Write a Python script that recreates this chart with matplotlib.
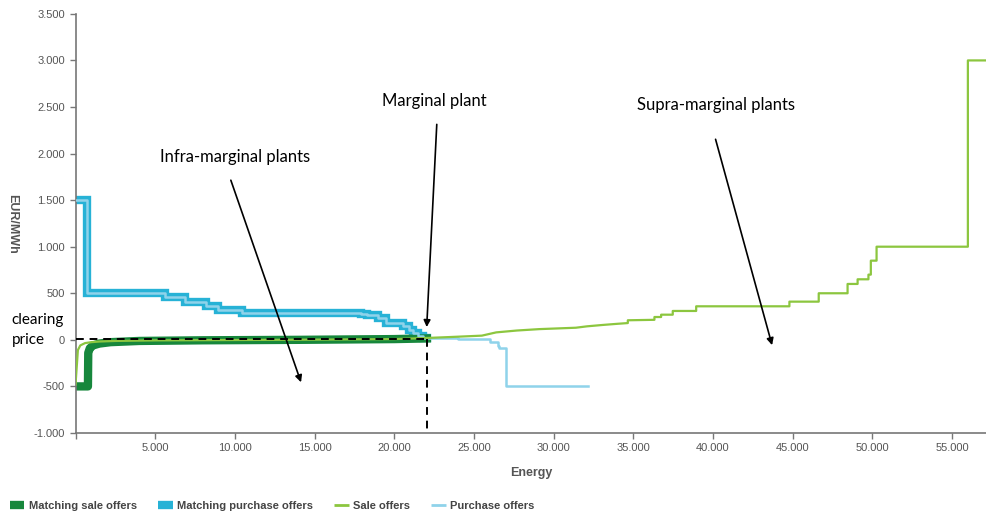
import matplotlib.pyplot as plt
from matplotlib.lines import Line2D
from matplotlib.ticker import FuncFormatter, MultipleLocator

# Matching purchase offers (steps-post: energy where each level starts)
mp_energy = [0, 720, 5600, 6870, 8220, 8930, 10420, 17900, 18300, 18970, 19510, 20540, 20900, 21170, 21480, 21800, 22050]
mp_price = [1500, 500, 460, 410, 360, 320, 290, 280, 265, 230, 185, 145, 110, 75, 45, 25, 20]

# Purchase offers beyond the clearing point
po_energy = [22050, 24000, 25150, 26000, 26500, 26600, 27000, 32150]
po_price = [20, 12, 5, -20, -65, -90, -500, -500]

# Matching sale offers (vertices)
ms_energy = [0, 780, 800, 900, 1100, 1500, 2200, 4000, 8000, 14000, 20000, 22050]
ms_price = [-500, -500, -140, -90, -60, -40, -25, -12, -5, 0, 8, 15]

# Sale offers (vertices)
so_energy = [0, 150, 300, 600, 1000, 1500, 2500, 5000, 10000, 15000, 20000, 22050,
             23500, 25500, 26400, 27700, 29100, 31400, 32100, 33100, 34000, 34660, 34660,
             36330, 36330, 36750, 36750, 37480, 37480, 38950, 38950, 44800, 44800,
             46640, 46640, 48450, 48450, 49080, 49080, 49760, 49760, 49910, 49910,
             50270, 50270, 56000, 56000, 57500]
so_price = [-480, -110, -60, -35, -25, -18, -12, -6, -2, 2, 8, 20,
            30, 45, 80, 100, 115, 130, 145, 160, 172, 180, 210,
            215, 245, 245, 270, 270, 310, 310, 360, 360, 410,
            410, 500, 500, 600, 600, 650, 650, 700, 700, 850,
            850, 1000, 1000, 3000, 3000]

clearing_energy = 22050
clearing_price = 5

plt.rcParams['font.family'] = ['Liberation Sans', 'DejaVu Sans']

fig = plt.figure(figsize=(9.87, 5.13), dpi=100)
ax = fig.add_axes([0.0765, 0.156, 0.9235, 0.817])

# thick matching curves
ax.plot(mp_energy, mp_price, drawstyle='steps-post', color='#27b2d6', lw=6,
        solid_joinstyle='miter', zorder=2)
ax.plot(ms_energy, ms_price, color='#17873c', lw=6, zorder=2)

# thin offer curves on top
ax.plot(mp_energy + po_energy, mp_price + po_price, drawstyle='steps-post',
        color='#8fd3ea', lw=1.8, zorder=3)
ax.plot(so_energy, so_price, color='#8cc63f', lw=1.6, zorder=3)

# clearing point dashed lines
ax.plot([0, clearing_energy], [clearing_price, clearing_price], color='black',
        lw=1.4, ls=(0, (4, 3)), zorder=4)
ax.plot([clearing_energy, clearing_energy], [clearing_price, -1000], color='black',
        lw=1.4, ls=(0, (4, 3)), zorder=4)

ax.set_xlim(0, 57200)
ax.set_ylim(-1000, 3500)
ax.xaxis.set_major_locator(MultipleLocator(5000))
ax.yaxis.set_major_locator(MultipleLocator(500))

ax.yaxis.set_major_formatter(FuncFormatter(lambda v, p: f'{int(v):,}'.replace(',', '.')))
ax.xaxis.set_major_formatter(FuncFormatter(lambda v, p: '' if v == 0 else f'{int(v):,}'.replace(',', '.')))

for s in ['top', 'right']:
    ax.spines[s].set_visible(False)
for s in ['left', 'bottom']:
    ax.spines[s].set_color('#777777')
    ax.spines[s].set_linewidth(1.2)
ax.tick_params(colors='#777777', labelcolor='#555555', labelsize=8, length=4, width=1)

ax.set_xlabel('Energy', fontsize=9, fontweight='bold', color='#555555', labelpad=10)
ax.set_ylabel('EUR/MWh', fontsize=9, fontweight='bold', color='#555555', rotation=270)
ax.yaxis.set_label_coords(-0.076, 0.5)

# annotations
tfont = dict(family='Lato', color='black')
arrow = dict(arrowstyle='-|>', color='black', lw=1.2, mutation_scale=10)
ax.annotate('', xy=(14210, -484), xytext=(9690, 1742), arrowprops=arrow)
ax.text(10000, 1960, 'Infra-marginal plants', ha='center', va='center', fontsize=12, **tfont)
ax.annotate('', xy=(22030, 107), xytext=(22680, 2343), arrowprops=arrow)
ax.text(22500, 2560, 'Marginal plant', ha='center', va='center', fontsize=12, **tfont)
ax.annotate('', xy=(43760, -86), xytext=(40120, 2182), arrowprops=arrow)
ax.text(40200, 2520, 'Supra-marginal plants', ha='center', va='center', fontsize=12, **tfont)
fig.text(11 / 987, 1 - 320 / 513, 'clearing', ha='left', va='center', fontsize=11, **tfont)
fig.text(12 / 987, 1 - 340 / 513, 'price', ha='left', va='center', fontsize=11, **tfont)

handles = [
    Line2D([], [], color='#17873c', lw=6, solid_capstyle='butt'),
    Line2D([], [], color='#27b2d6', lw=6, solid_capstyle='butt'),
    Line2D([], [], color='#8cc63f', lw=2, solid_capstyle='butt'),
    Line2D([], [], color='#8fd3ea', lw=2, solid_capstyle='butt'),
]
labels = ['Matching sale offers', 'Matching purchase offers', 'Sale offers', 'Purchase offers']
fig.legend(handles, labels, loc='lower left', bbox_to_anchor=(0.0, -0.016), ncol=4,
           frameon=False, handlelength=1.3, columnspacing=1.9, handletextpad=0.4,
           prop=dict(size=8, weight='bold'), labelcolor='#444444')

fig.savefig('out.png', dpi=100)
